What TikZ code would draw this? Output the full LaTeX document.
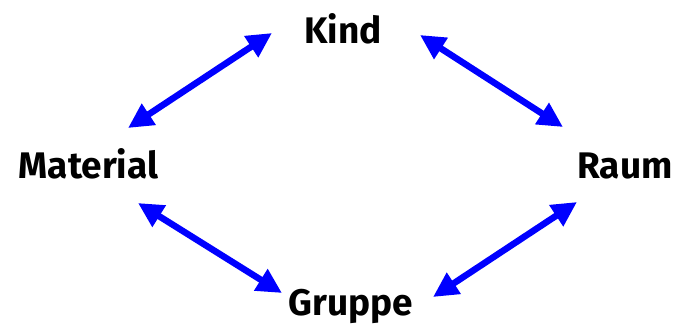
\documentclass[tikz,border=0pt]{standalone}
\usepackage{fontspec}
\setmainfont{Fira Sans}
\usepackage{xcolor}
\usetikzlibrary{arrows.meta,calc}

\definecolor{arrowblue}{RGB}{0,0,255}

\begin{document}
\begin{tikzpicture}[
  x=1pt, y=-1pt,
  term/.style={font=\fontsize{37}{37}\selectfont\bfseries, anchor=base, inner sep=0pt},
  link/.style={{Triangle[length=25pt,width=24pt]}-{Triangle[length=25pt,width=24pt]}, line width=6.5pt, arrowblue}
]

\useasboundingbox (0,0) rectangle (674,325);

\node[term] (kind) at (343,43) {Kind};
\node[term] (mat) at (88.5,178) {Material};
\node[term] (raum) at (625,178) {Raum};
\node[term] (grp) at (351,315) {Gruppe};

\draw[link] ($(mat.base)+(39.5,-50)$) -- ($(kind.base)+(-71,-10)$);
\draw[link] ($(kind.base)+(77,-8)$) -- ($(raum.base)+(-62,-51)$);
\draw[link] ($(mat.base)+(49.5,25)$) -- ($(grp.base)+(-69,-22)$);
\draw[link] ($(grp.base)+(82,-18)$) -- ($(raum.base)+(-48,24)$);

\end{tikzpicture}
\end{document}
